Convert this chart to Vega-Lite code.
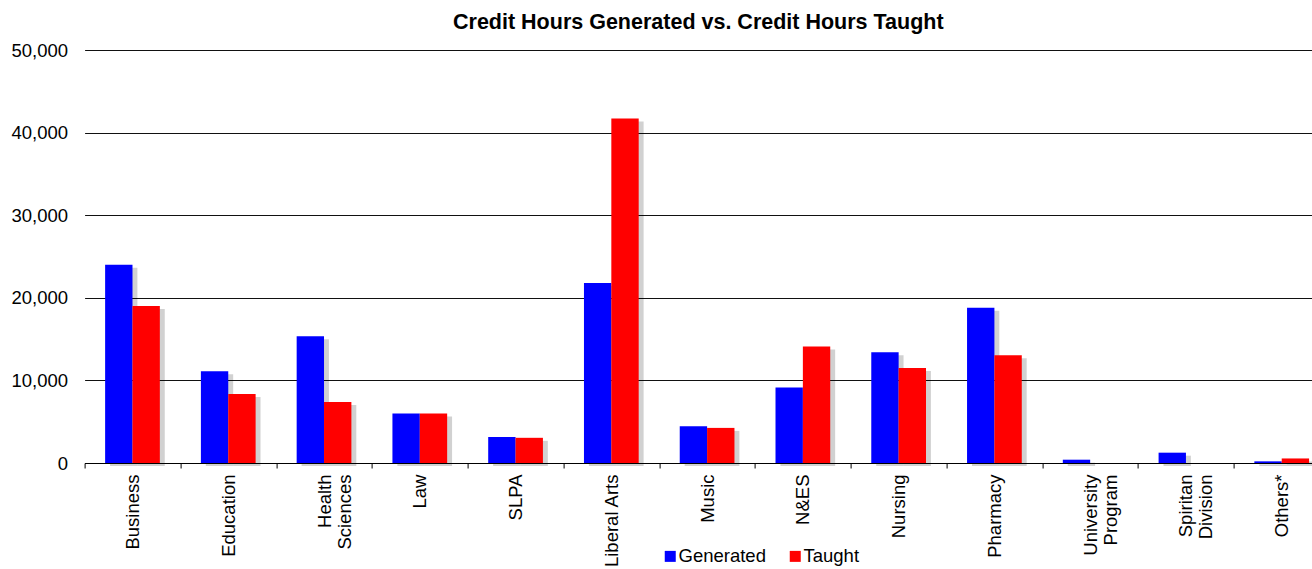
{
  "$schema": "https://vega.github.io/schema/vega-lite/v6.json",
  "autosize": {"type": "none"},
  "width": 1227.4,
  "height": 413,
  "padding": {"left": 84.6, "top": 50, "right": 0, "bottom": 106},
  "background": "white",
  "title": {
    "text": "Credit Hours Generated vs. Credit Hours Taught",
    "fontSize": 21.5,
    "fontWeight": "bold",
    "font": "Liberation Sans",
    "color": "#000000",
    "anchor": "middle",
    "baseline": "alphabetic",
    "offset": -9.5
  },
  "data": {
    "values": [
      {"school": "Business", "type": "Generated", "hours": 24000},
      {"school": "Business", "type": "Taught", "hours": 19000},
      {"school": "Education", "type": "Generated", "hours": 11100},
      {"school": "Education", "type": "Taught", "hours": 8350},
      {"school": "Health Sciences", "type": "Generated", "hours": 15350},
      {"school": "Health Sciences", "type": "Taught", "hours": 7400},
      {"school": "Law", "type": "Generated", "hours": 6000},
      {"school": "Law", "type": "Taught", "hours": 6000},
      {"school": "SLPA", "type": "Generated", "hours": 3150},
      {"school": "SLPA", "type": "Taught", "hours": 3050},
      {"school": "Liberal Arts", "type": "Generated", "hours": 21800},
      {"school": "Liberal Arts", "type": "Taught", "hours": 41700},
      {"school": "Music", "type": "Generated", "hours": 4450},
      {"school": "Music", "type": "Taught", "hours": 4250},
      {"school": "N&ES", "type": "Generated", "hours": 9150},
      {"school": "N&ES", "type": "Taught", "hours": 14100},
      {"school": "Nursing", "type": "Generated", "hours": 13400},
      {"school": "Nursing", "type": "Taught", "hours": 11500},
      {"school": "Pharmacy", "type": "Generated", "hours": 18800},
      {"school": "Pharmacy", "type": "Taught", "hours": 13050},
      {"school": "University Program", "type": "Generated", "hours": 400},
      {"school": "University Program", "type": "Taught", "hours": 0},
      {"school": "Spiritan Division", "type": "Generated", "hours": 1250},
      {"school": "Spiritan Division", "type": "Taught", "hours": 0},
      {"school": "Others*", "type": "Generated", "hours": 200},
      {"school": "Others*", "type": "Taught", "hours": 550}
    ]
  },
  "layer": [
    {
      "mark": {"type": "bar", "color": "#000000", "opacity": 0.18, "yOffset": 3},
      "encoding": {
        "x": {"field": "school", "type": "nominal", "sort": null},
        "xOffset": {
          "field": "type",
          "type": "nominal",
          "scale": {"paddingInner": 0, "paddingOuter": 0.75, "align": 0.62}
        },
        "y": {"field": "hours", "type": "quantitative"}
      }
    },
    {
      "mark": {"type": "bar"},
      "encoding": {
        "x": {"field": "school", "type": "nominal", "sort": null},
        "xOffset": {
          "field": "type",
          "type": "nominal",
          "scale": {"paddingInner": 0, "paddingOuter": 0.75}
        },
        "y": {"field": "hours", "type": "quantitative"},
        "color": {
          "field": "type",
          "type": "nominal",
          "scale": {"domain": ["Generated", "Taught"], "range": ["#0000FF", "#FF0000"]},
          "legend": {
            "title": null,
            "orient": "none",
            "direction": "horizontal",
            "legendX": 576.4,
            "legendY": 497,
            "symbolType": "square",
            "symbolSize": 121,
            "symbolStrokeWidth": 0,
            "symbolOpacity": 1,
            "labelFontSize": 18.5,
            "labelFont": "Liberation Sans",
            "labelColor": "#000000",
            "labelOffset": -1,
            "columnPadding": 20,
            "padding": 0
          }
        }
      }
    }
  ],
  "encoding": {
    "x": {
      "field": "school",
      "type": "nominal",
      "sort": null,
      "scale": {"range": [0, 1245], "paddingInner": 0, "paddingOuter": 0},
      "axis": {
        "title": null,
        "labelAngle": -90,
        "labelAlign": "right",
        "labelBaseline": "middle",
        "labelFontSize": 18.5,
        "labelFont": "Liberation Sans",
        "labelColor": "#000000",
        "labelPadding": 6,
        "labelLineHeight": 20,
        "labelExpr": "datum.value == 'Health Sciences' ? ['Health','Sciences'] : datum.value == 'University Program' ? ['University','Program'] : datum.value == 'Spiritan Division' ? ['Spiritan','Division'] : datum.value",
        "tickBand": "extent",
        "tickSize": 5,
        "tickColor": "#000000",
        "domainColor": "#000000",
        "labelOverlap": false,
        "grid": false
      }
    },
    "y": {
      "field": "hours",
      "type": "quantitative",
      "scale": {"domain": [0, 50000], "nice": false},
      "axis": {
        "title": null,
        "values": [0, 10000, 20000, 30000, 40000, 50000],
        "format": ",.0f",
        "labelFontSize": 18.5,
        "labelFont": "Liberation Sans",
        "labelColor": "#000000",
        "labelPadding": 17,
        "ticks": false,
        "domain": false,
        "grid": true,
        "gridColor": "#111111",
        "gridOpacity": 1
      }
    }
  },
  "resolve": {"scale": {"xOffset": "independent"}},
  "config": {
    "view": {"stroke": null},
    "font": "Liberation Sans"
  }
}
